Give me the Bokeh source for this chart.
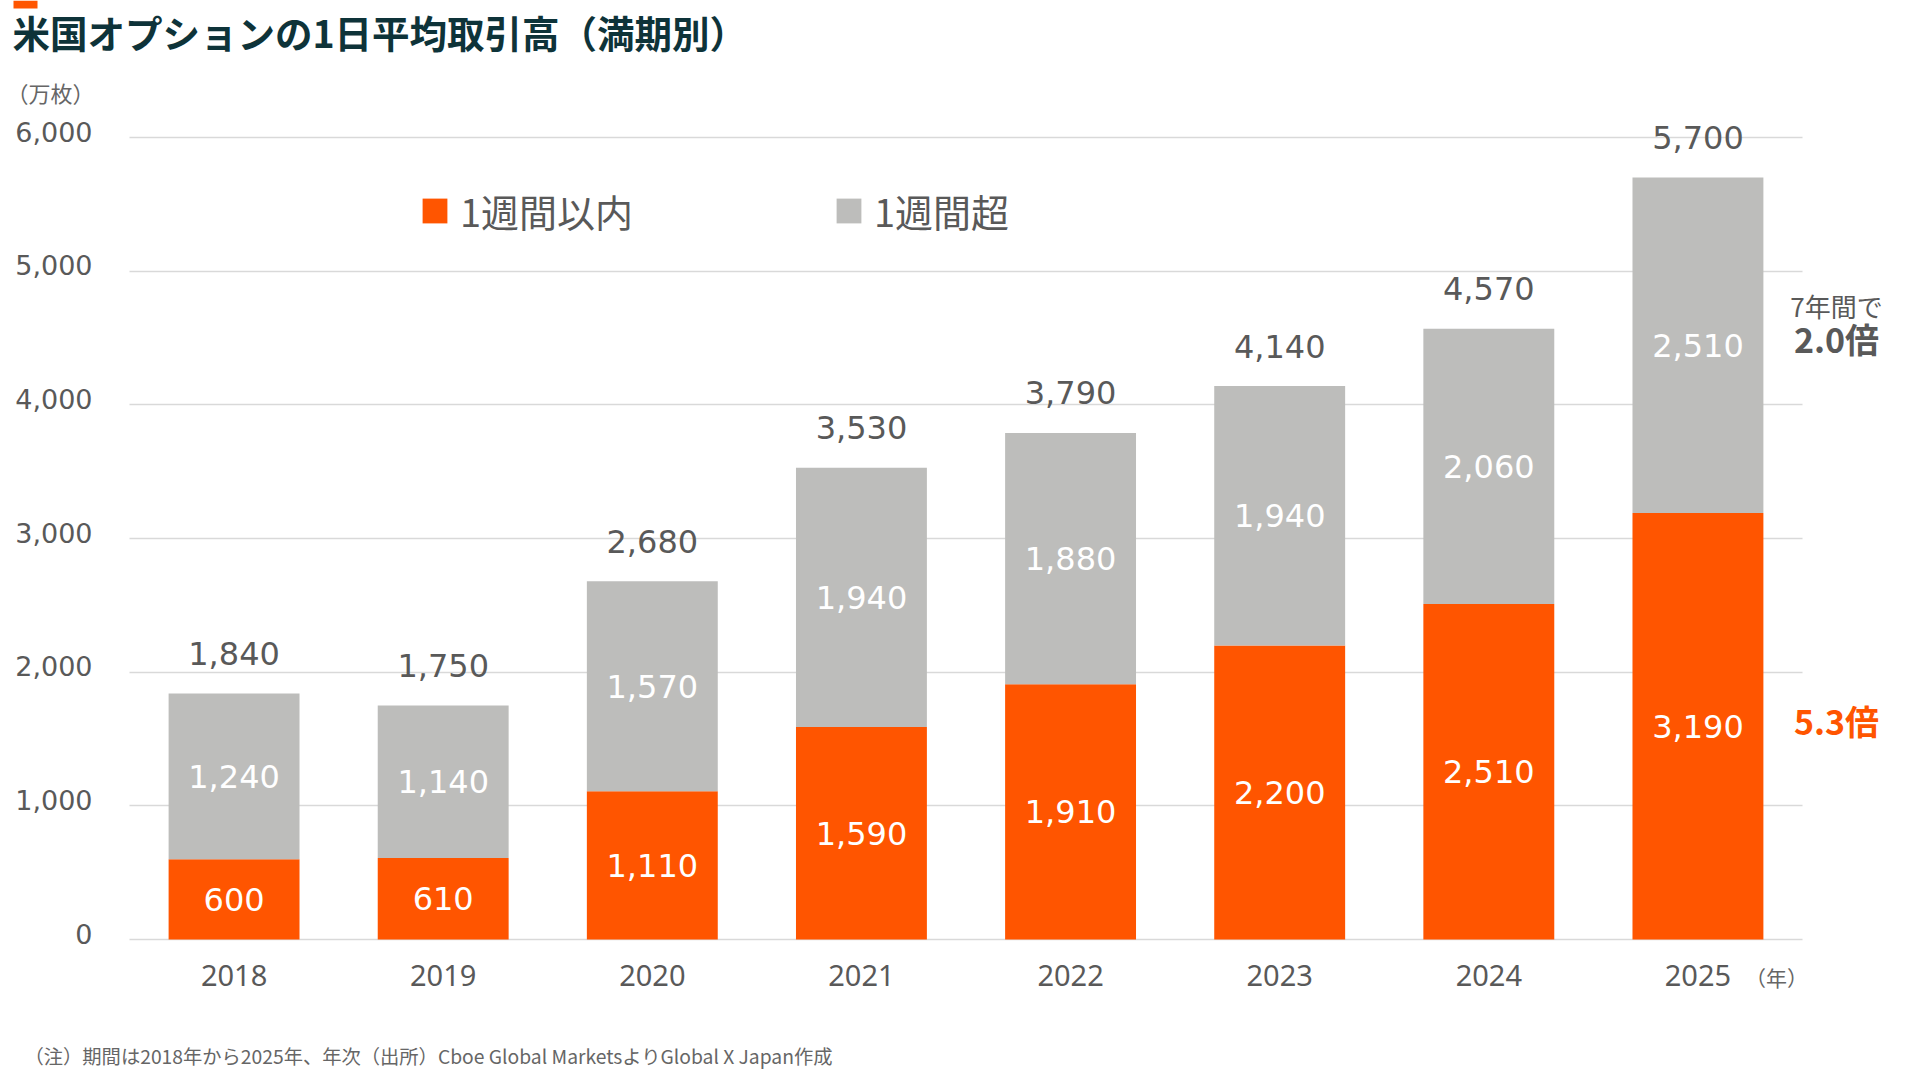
from bokeh.plotting import figure
from bokeh.models import (ColumnDataSource, Range1d, FixedTicker, LinearAxis, Grid,
                          NumeralTickFormatter, Label, Legend, LegendItem, BoxAnnotation)
from bokeh.core.properties import value
from bokeh.embed import file_html
from bokeh.resources import INLINE

# ---- data ----
years = ["2018", "2019", "2020", "2021", "2022", "2023", "2024", "2025"]
within_week = [600, 610, 1110, 1590, 1910, 2200, 2510, 3190]
over_week = [1240, 1140, 1570, 1940, 1880, 1940, 2060, 2510]
totals = [1840, 1750, 2680, 3530, 3790, 4140, 4570, 5700]
y_ticks = [0, 1000, 2000, 3000, 4000, 5000, 6000]
series_names = ["1週間以内", "1週間超"]

ORANGE = "#FF5500"
GRAY = "#BDBDBB"
TEXT = "#595959"

W, H = 1920, 1081
GL, GR = 129, 1802          # grid extent (px)
Y0, Y6000 = 939, 137        # px of y=0 and y=6000
CAT_W = (GR - GL) / len(years)
K = (Y0 - Y6000) / 6000.0


def fx(px):
    return (px - GL) / CAT_W - 0.5


def fy(py):
    return (Y0 - py) / K


xi = list(range(len(years)))
src = ColumnDataSource(dict(
    x=xi,
    within=within_week,
    over=over_week,
    mid_within=[w / 2 for w in within_week],
    mid_over=[w + o / 2 for w, o in zip(within_week, over_week)],
    top_label=[t + 300 for t in totals],
    lab_within=[f"{v:,}" for v in within_week],
    lab_over=[f"{v:,}" for v in over_week],
    lab_total=[f"{v:,}" for v in totals],
))

p = figure(width=W, height=H, output_backend="svg", toolbar_location=None,
           x_range=Range1d(fx(0), fx(W)), y_range=Range1d(fy(H), fy(0)),
           x_axis_location=None, y_axis_location=None,
           min_border=0)
p.outline_line_color = None
p.background_fill_color = "white"
p.border_fill_color = "white"
# drop default grids
p.center = [r for r in p.center if not isinstance(r, Grid)]

# label range shifted a few px upward for y tick labels
SHIFT = 6 / K
p.extra_y_ranges = {"lab": Range1d(fy(H) - SHIFT, fy(0) - SHIFT)}

# grid
p.add_layout(Grid(dimension=1, ticker=FixedTicker(ticks=y_ticks),
                  cross_bounds=(-0.5, len(years) - 0.5),
                  grid_line_color="#D9D9D9", grid_line_width=1.3))

rs = p.vbar_stack(["within", "over"], x="x", width=0.626, color=[ORANGE, GRAY],
                  line_color=None, source=src)

# axes (drawn inside the full-canvas frame)
yax = LinearAxis(fixed_location=-0.5, ticker=FixedTicker(ticks=y_ticks),
                 formatter=NumeralTickFormatter(format="0,0"), y_range_name="lab")
yax.axis_line_color = None
yax.major_tick_line_color = None
yax.minor_tick_line_color = None
yax.major_label_text_font = "DejaVu Sans"
yax.major_label_text_font_size = "27px"
yax.major_label_text_color = TEXT
yax.major_label_standoff = 31
p.add_layout(yax, "left")

xax = LinearAxis(fixed_location=0, ticker=FixedTicker(ticks=xi),
                 major_label_overrides={i: y for i, y in zip(xi, years)})
xax.axis_line_color = None
xax.major_tick_line_color = None
xax.minor_tick_line_color = None
xax.major_label_text_font = "Noto Sans"
xax.major_label_text_font_size = "29px"
xax.major_label_text_color = TEXT
xax.major_label_standoff = 19
p.add_layout(xax, "below")

# value labels
common = dict(source=src, text_align="center", text_baseline="middle",
              text_font=value("DejaVu Sans"), text_font_size=value("32px"))
p.text(x="x", y="mid_within", text="lab_within", text_color="white", **common)
p.text(x="x", y="mid_over", text="lab_over", text_color="white", **common)
p.text(x="x", y="top_label", text="lab_total", text_color=TEXT, **common)

# legends
for r, name, px in zip(rs, series_names, [419, 833]):
    leg = Legend(items=[LegendItem(label=name, renderers=[r])],
                 location=(px, H - 238), orientation="horizontal",
                 glyph_width=31, glyph_height=31, label_standoff=10,
                 padding=0, margin=0, spacing=0,
                 border_line_color=None, background_fill_alpha=0,
                 label_text_font="Noto Sans CJK JP", label_text_font_size="38px",
                 label_text_color=TEXT)
    p.add_layout(leg)

# title & annotations
p.add_layout(BoxAnnotation(left=fx(13), right=fx(37), top=fy(0), bottom=fy(8),
                           fill_color=ORANGE, fill_alpha=1, line_color=None))
p.add_layout(Label(x=fx(12), y=fy(31), text="米国オプションの1日平均取引高（満期別）",
                   text_font="Noto Sans CJK JP", text_font_style="bold",
                   text_font_size="37.5px", text_color="#0E3339",
                   text_baseline="middle", text_align="left"))
p.add_layout(Label(x=fx(6), y=fy(91), text="（万枚）",
                   text_font="Noto Sans CJK JP", text_font_size="22px",
                   text_color="#666666", text_baseline="middle", text_align="left"))
p.add_layout(Label(x=fx(1776), y=fy(976), text="（年）",
                   text_font="Noto Sans CJK JP", text_font_size="21px",
                   text_color="#666666", text_baseline="middle", text_align="center"))
p.add_layout(Label(x=fx(1836), y=fy(305), text="7年間で",
                   text_font="Noto Sans CJK JP", text_font_size="26px",
                   text_color=TEXT, text_baseline="middle", text_align="center"))
p.add_layout(Label(x=fx(1836), y=fy(338), text="2.0倍",
                   text_font="Noto Sans CJK JP", text_font_style="bold", text_font_size="34px",
                   text_color=TEXT, text_baseline="middle", text_align="center"))
p.add_layout(Label(x=fx(1836), y=fy(720), text="5.3倍",
                   text_font="Noto Sans CJK JP", text_font_style="bold", text_font_size="34px",
                   text_color=ORANGE, text_baseline="middle", text_align="center"))
p.add_layout(Label(x=fx(24), y=fy(1055),
                   text="（注）期間は2018年から2025年、年次（出所）Cboe Global MarketsよりGlobal X Japan作成",
                   text_font="Noto Sans CJK JP", text_font_size="19.3px",
                   text_color="#666666", text_baseline="middle", text_align="left"))

with open("out.html", "w", encoding="utf-8") as f:
    f.write(file_html(p, INLINE))
